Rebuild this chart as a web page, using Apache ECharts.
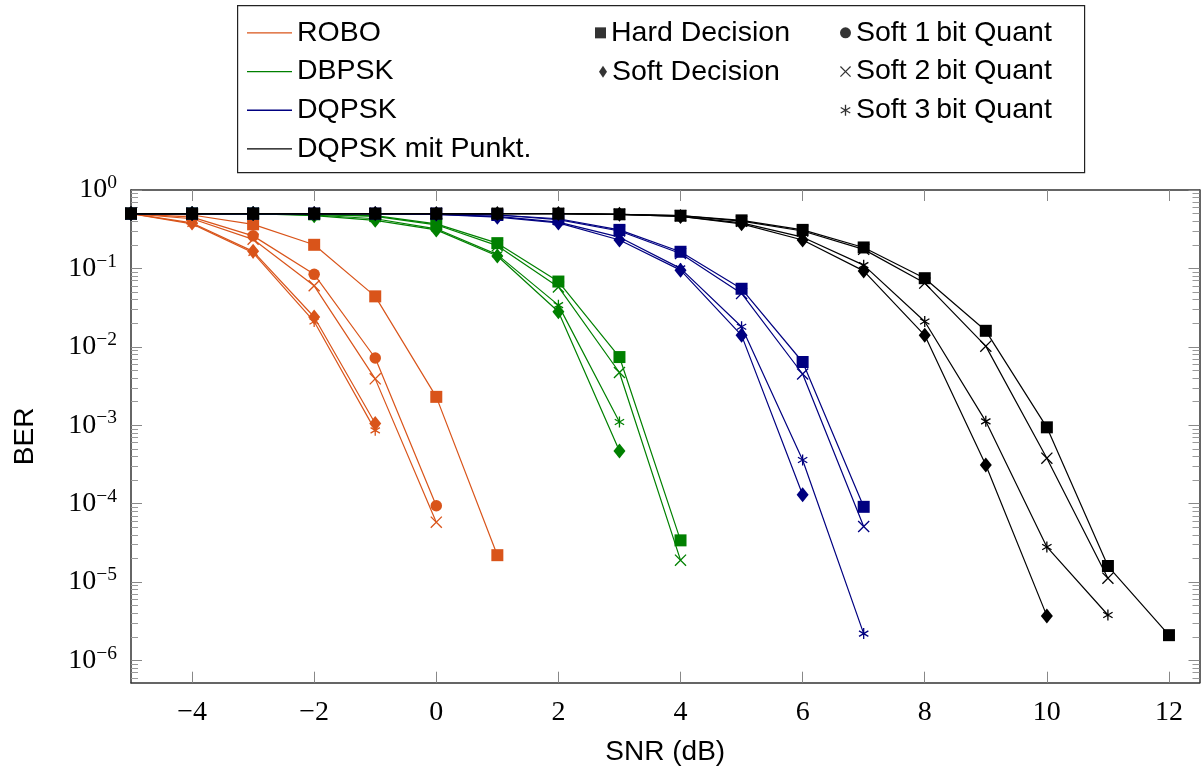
<!DOCTYPE html>
<html><head><meta charset="utf-8">
<script src="https://cdn.jsdelivr.net/npm/echarts@6/dist/echarts.min.js"></script>
<style>html,body{margin:0;padding:0;background:#fff}#c{width:1203px;height:769px}</style>
</head><body><div id="c"></div>
<script>
// SNR values (dB); every series below starts at -5 dB
const snr = [-5,-4,-3,-2,-1,0,1,2,3,4,5,6,7,8,9,10,11,12];
const xTicks = [-4,-2,0,2,4,6,8,10,12];
const yExpTicks = [-6,-5,-4,-3,-2,-1,0];

// ROBO
const roboHard  = [0.5,0.48,0.365,0.2,0.044,2.3e-3,2.2e-5];
const roboSoft  = [0.5,0.38,0.165,0.024,1.05e-3];
const roboSoft1 = [0.5,0.45,0.26,0.084,7.2e-3,9.4e-5];
const roboSoft2 = [0.5,0.43,0.235,0.06,3.9e-3,5.8e-5];
const roboSoft3 = [0.5,0.37,0.158,0.021,8.6e-4];
// DBPSK
const dbpskHard  = [0.5,0.5,0.5,0.49,0.47,0.37,0.21,0.068,7.4e-3,3.4e-5];
const dbpskSoft  = [0.5,0.5,0.5,0.47,0.41,0.31,0.144,0.028,4.7e-4];
const dbpskSoft2 = [0.5,0.5,0.5,0.49,0.46,0.36,0.195,0.058,4.7e-3,1.9e-5];
const dbpskSoft3 = [0.5,0.5,0.5,0.48,0.43,0.32,0.15,0.034,1.1e-3];
// DQPSK
const dqpskHard  = [0.5,0.5,0.5,0.5,0.5,0.5,0.48,0.43,0.31,0.163,0.055,6.4e-3,9.1e-5];
const dqpskSoft  = [0.5,0.5,0.5,0.5,0.5,0.49,0.45,0.38,0.23,0.095,0.014,1.3e-4];
const dqpskSoft2 = [0.5,0.5,0.5,0.5,0.5,0.5,0.48,0.42,0.3,0.155,0.048,4.5e-3,5.1e-5];
const dqpskSoft3 = [0.5,0.5,0.5,0.5,0.5,0.49,0.46,0.39,0.25,0.1,0.018,3.6e-4,2.2e-6];
// DQPSK mit Punkt.
const punktHard  = [0.5,0.5,0.5,0.5,0.5,0.5,0.5,0.5,0.49,0.47,0.41,0.31,0.185,0.075,0.016,9.4e-4,1.6e-5,2.1e-6];
const punktSoft  = [0.5,0.5,0.5,0.5,0.5,0.5,0.5,0.5,0.49,0.46,0.37,0.23,0.093,0.014,3.1e-4,3.7e-6];
const punktSoft2 = [0.5,0.5,0.5,0.5,0.5,0.5,0.5,0.5,0.49,0.47,0.4,0.3,0.175,0.065,0.0102,3.8e-4,1.12e-5];
const punktSoft3 = [0.5,0.5,0.5,0.5,0.5,0.5,0.5,0.5,0.49,0.46,0.38,0.25,0.11,0.021,1.12e-3,2.8e-5,3.8e-6];

const modNames = ['ROBO','DBPSK','DQPSK','DQPSK mit Punkt.'];
const decNames = ['Hard Decision','Soft Decision','Soft 1\u2009bit Quant','Soft 2\u2009bit Quant','Soft 3\u2009bit Quant'];

const colors = {'ROBO':'#D9541A','DBPSK':'#008000','DQPSK':'#000080','DQPSK mit Punkt.':'#000000'};

function barsPath(angles, t) {
  let d = '';
  angles.forEach(a => {
    const r = a * Math.PI / 180;
    const ux = Math.cos(r) * 0.5, uy = -Math.sin(r) * 0.5;
    const nx = Math.sin(r) * t / 2, ny = Math.cos(r) * t / 2;
    const pts = [[ux+nx,uy+ny],[ux-nx,uy-ny],[-ux-nx,-uy-ny],[-ux+nx,-uy+ny]];
    d += 'M' + pts.map(p => (p[0]+1).toFixed(4) + ' ' + (p[1]+1).toFixed(4)).join('L') + 'Z';
  });
  return 'path://' + d;
}
const xPath = barsPath([45,135], 0.085);
const astPath = barsPath([90,30,150], 0.12);
const linePath = 'path://M0 0H45V1.3H0Z';

const marks = {
  hard:  {symbol:'rect', size:12},
  soft:  {symbol:'diamond', size:[12,15]},
  soft1: {symbol:'circle', size:11.5},
  soft2: {symbol:xPath, size:12},
  soft3: {symbol:astPath, size:[10,11]}
};

const groups = [
  ['ROBO', {hard:roboHard, soft:roboSoft, soft1:roboSoft1, soft2:roboSoft2, soft3:roboSoft3}],
  ['DBPSK', {hard:dbpskHard, soft:dbpskSoft, soft2:dbpskSoft2, soft3:dbpskSoft3}],
  ['DQPSK', {hard:dqpskHard, soft:dqpskSoft, soft2:dqpskSoft2, soft3:dqpskSoft3}],
  ['DQPSK mit Punkt.', {hard:punktHard, soft:punktSoft, soft2:punktSoft2, soft3:punktSoft3}]
];

const series = [];
groups.forEach(([mod, sets], gi) => {
  Object.keys(sets).forEach(k => {
    const c = colors[mod];
    series.push({
      type:'line', name: mod + ' ' + k,
      data: sets[k].map((v, i) => [snr[i], Math.log10(v)]),
      symbol: marks[k].symbol, symbolSize: marks[k].size, showAllSymbol: true,
      lineStyle: {color: c, width: 1.2},
      itemStyle: {color: c, borderWidth: 0},
      clip: false, z: 2 + gi, silent: true
    });
  });
});
// legend-only series
modNames.forEach(m => series.push({type:'line', name:m, data:[], symbol:'none',
  lineStyle:{color:colors[m], width:1.3}, itemStyle:{color:colors[m]}}));
decNames.forEach(n => series.push({type:'scatter', name:n, data:[], itemStyle:{color:'#000'}}));

const yMin = Math.log10(5.2e-7);
const minorVals = [];
for (let n = -7; n < 0; n++) for (let k = 2; k <= 9; k++) {
  const v = Math.log10(k * Math.pow(10, n));
  if (v >= yMin && v <= 0) minorVals.push(v);
}

const serif = 'Liberation Serif';
const sans = 'Liberation Sans';
const frame = {show:true, onZero:false, lineStyle:{color:'#333', width:1.5}};
const tickMajor = {show:true, inside:true, length:11, lineStyle:{color:'#888', width:1}};
const tickMinor = {show:true, inside:true, length:7, lineStyle:{color:'#999', width:1}};

function yAxisDef(pos, major, labels) {
  return {
    type:'value', position:pos, min:yMin, max:0,
    axisLine: major ? frame : {show:false, onZero:false},
    splitLine:{show:false},
    axisTick: Object.assign({}, major ? tickMajor : tickMinor, {customValues: major ? yExpTicks : minorVals}),
    axisLabel: labels ? {
      show:true, customValues: yExpTicks, margin:14,
      formatter: v => { const e = Math.round(v); return '{b|10}{s|' + (e < 0 ? '\u2212' + (-e) : e) + '}'; },
      rich: {b:{fontFamily:serif, fontSize:28, color:'#000'},
             s:{fontFamily:serif, fontSize:19.5, color:'#000', padding:[0,0,14,0]}}
    } : {show:false},
    name: labels ? 'BER' : '', nameLocation:'middle', nameGap:92,
    nameTextStyle:{fontFamily:sans, fontSize:28, color:'#000'}
  };
}

const legendBase = {orient:'vertical', padding:0, itemGap:0, selectedMode:false,
  textStyle:{fontFamily:sans, fontSize:28.5, color:'#000', lineHeight:38.7}};

const option = {
  animation:false,
  backgroundColor:'#fff',
  grid:{left:131, right:3.5, top:190, bottom:86.3, containLabel:false, outerBoundsMode:'none'},
  xAxis:[
    {type:'value', position:'bottom', min:-5, max:12.5,
     axisLine:frame, splitLine:{show:false},
     axisTick:Object.assign({}, tickMajor, {customValues:xTicks}),
     axisLabel:{customValues:xTicks, margin:16, fontFamily:serif, fontSize:28, color:'#000',
       formatter: v => v < 0 ? '\u2212' + (-v) : String(v)},
     name:'SNR (dB)', nameLocation:'middle', nameGap:56,
     nameTextStyle:{fontFamily:sans, fontSize:28, color:'#000'}},
    {type:'value', position:'top', min:-5, max:12.5,
     axisLine:frame, splitLine:{show:false},
     axisTick:Object.assign({}, tickMajor, {customValues:xTicks}),
     axisLabel:{show:false}}
  ],
  yAxis:[
    yAxisDef('left', true, true),
    yAxisDef('left', false, false),
    yAxisDef('right', true, false),
    yAxisDef('right', false, false)
  ],
  legend:[
    Object.assign({}, legendBase, {left:247, top:13.5, itemWidth:45, itemHeight:1.3,
      data: modNames.map(n => ({name:n, icon:linePath}))}),
    Object.assign({}, legendBase, {left:595, top:13.5, itemWidth:11, itemHeight:11,
      data:[{name:decNames[0], icon:'rect'}]}),
    Object.assign({}, legendBase, {left:599, top:52.5, itemWidth:8, itemHeight:12,
      data:[{name:decNames[1], icon:'diamond'}]}),
    Object.assign({}, legendBase, {left:840, top:13.5, itemWidth:11, itemHeight:11,
      data:[{name:decNames[2], icon:'circle'}, {name:decNames[3], icon:xPath}, {name:decNames[4], icon:astPath}]})
  ],
  graphic:[{type:'rect', left:237, top:5, silent:true,
    shape:{width:847, height:167}, style:{fill:'rgba(0,0,0,0)', stroke:'#222', lineWidth:1.2}}],
  series: series
};

const chart = echarts.init(document.getElementById('c'), null, {renderer:'canvas'});
chart.setOption(option);
</script>
</body></html>
